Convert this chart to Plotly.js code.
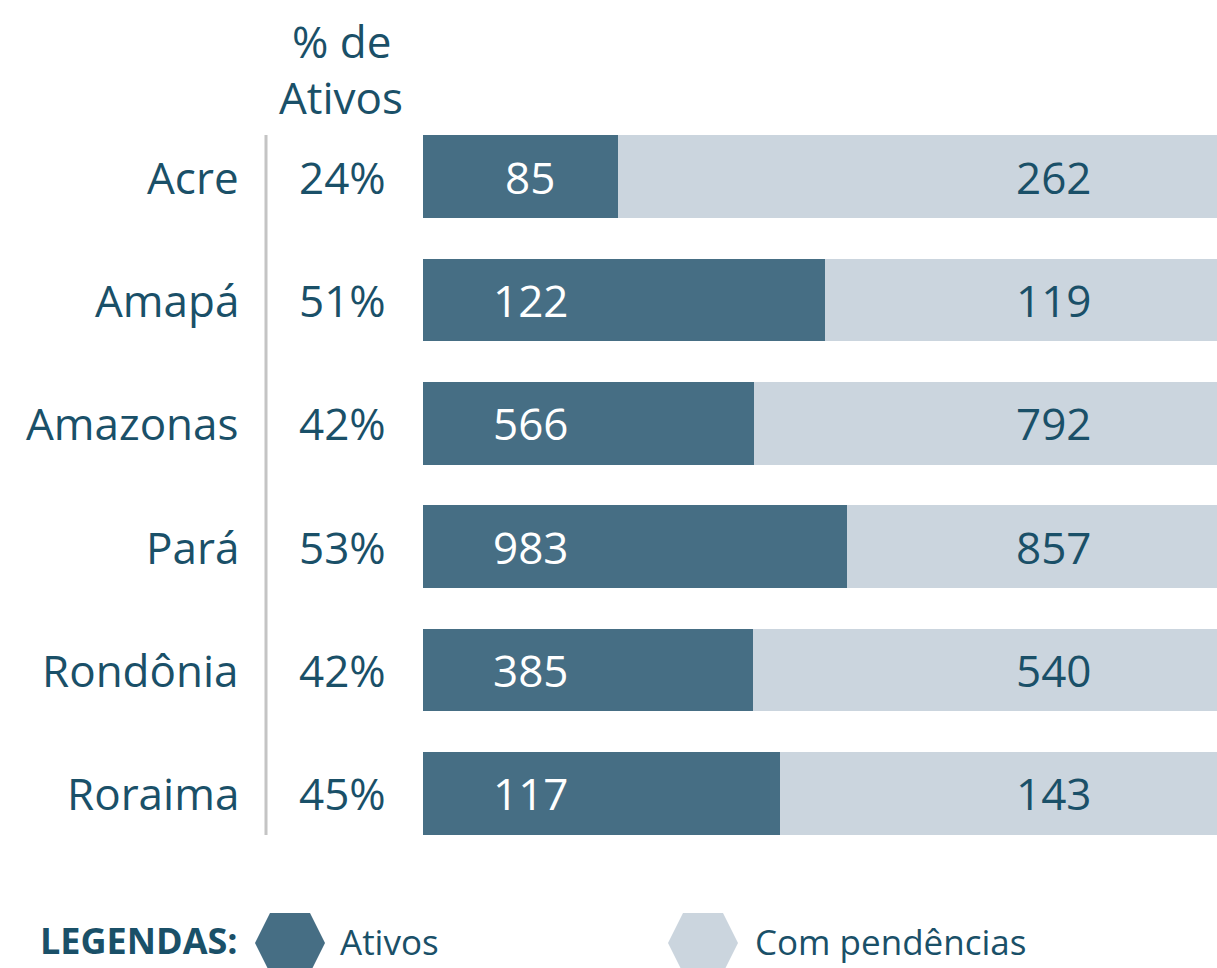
<!DOCTYPE html>
<html>
<head>
<meta charset="utf-8">
<script src="https://cdn.plot.ly/plotly-3.0.1.min.js"></script>
<style>
html,body{margin:0;padding:0;background:#fff;}
#chart{width:1217px;height:968px;}
</style>
</head>
<body>
<div id="chart"></div>
<script>
// ---- data ----
const states = ["Acre", "Amapá", "Amazonas", "Pará", "Rondônia", "Roraima"];
const ativos = [85, 122, 566, 983, 385, 117];
const pendencias = [262, 119, 792, 857, 540, 143];
const pctLabels = ["24%", "51%", "42%", "53%", "42%", "45%"];
const headerLines = ["% de", "Ativos"];
const legendTitle = "LEGENDAS:";
const seriesNames = ["Ativos", "Com pendências"];

// ---- style ----
const W = 1217, H = 968;
const M = {l: 423, r: 0, t: 115, b: 113};
const PW = W - M.l - M.r, PH = H - M.t - M.b;
const DARK = "#466e84", LIGHT = "#cbd5de", TXT = "#1a5068";
const FONT = "Open Sans, Noto Sans, sans-serif";
const FS = 44;
const px2x = p => (p - M.l) / PW;
const px2y = p => (H - M.b - p) / PH;

const traces = [
  {type: "bar", orientation: "h", name: seriesNames[0], y: states, x: ativos,
   marker: {color: DARK}, hoverinfo: "x+y"},
  {type: "bar", orientation: "h", name: seriesNames[1], y: states, x: pendencias,
   marker: {color: LIGHT}, hoverinfo: "x+y"}
];

const ann = [];
states.forEach((s, i) => {
  ann.push({xref: "paper", yref: "y", x: px2x(241), y: s, text: s, xanchor: "right",
            showarrow: false, font: {family: FONT, size: FS, color: TXT}});
  ann.push({xref: "paper", yref: "y", x: px2x(342), y: s, text: pctLabels[i], xanchor: "center",
            showarrow: false, font: {family: FONT, size: FS, color: TXT}});
  ann.push({xref: "paper", yref: "y", x: px2x(530), y: s, text: String(ativos[i]), xanchor: "center",
            showarrow: false, font: {family: FONT, size: FS, color: "#ffffff"}});
  ann.push({xref: "paper", yref: "y", x: px2x(1053), y: s, text: String(pendencias[i]), xanchor: "center",
            showarrow: false, font: {family: FONT, size: FS, color: TXT}});
});
ann.push({xref: "paper", yref: "paper", x: px2x(341), y: px2y(41), yanchor: "middle", xanchor: "center",
          text: headerLines[0], showarrow: false, font: {family: FONT, size: FS, color: TXT}});
ann.push({xref: "paper", yref: "paper", x: px2x(341), y: px2y(97), yanchor: "middle", xanchor: "center",
          text: headerLines[1], showarrow: false, font: {family: FONT, size: FS, color: TXT}});
ann.push({xref: "paper", yref: "paper", x: px2x(38), y: px2y(940), xanchor: "left", yanchor: "middle",
          text: "<b>" + legendTitle + "</b>", showarrow: false,
          font: {family: FONT, size: 36, color: TXT}});
ann.push({xref: "paper", yref: "paper", x: px2x(338), y: px2y(941), xanchor: "left", yanchor: "middle",
          text: seriesNames[0], showarrow: false, font: {family: FONT, size: 35, color: TXT}});
ann.push({xref: "paper", yref: "paper", x: px2x(753), y: px2y(941), xanchor: "left", yanchor: "middle",
          text: seriesNames[1], showarrow: false, font: {family: FONT, size: 35, color: TXT}});

function hexPath(cx, cy, w, h) {
  const s = 15;
  const pts = [[cx - w/2, cy], [cx - w/2 + s, cy - h/2], [cx + w/2 - s, cy - h/2],
               [cx + w/2, cy], [cx + w/2 - s, cy + h/2], [cx - w/2 + s, cy + h/2]];
  return "M" + pts.map(p => px2x(p[0]) + "," + px2y(p[1])).join("L") + "Z";
}

const shapes = [
  {type: "line", xref: "paper", yref: "paper", x0: px2x(266), x1: px2x(266),
   y0: px2y(135), y1: px2y(835), line: {color: "#c4c4c4", width: 3}},
  {type: "path", xref: "paper", yref: "paper", path: hexPath(290, 943, 70, 60),
   fillcolor: DARK, line: {width: 0}},
  {type: "path", xref: "paper", yref: "paper", path: hexPath(703, 943, 70, 60),
   fillcolor: LIGHT, line: {width: 0}}
];

const layout = {
  width: W, height: H, margin: M,
  paper_bgcolor: "#fff", plot_bgcolor: "#fff",
  barmode: "stack", barnorm: "fraction", bargap: 0.33,
  showlegend: false,
  xaxis: {range: [0, 1], visible: false, fixedrange: true},
  yaxis: {autorange: "reversed", showticklabels: false, showgrid: false, zeroline: false,
          showline: false, ticks: "", fixedrange: true},
  annotations: ann, shapes: shapes,
  font: {family: FONT, color: TXT}
};

Plotly.newPlot("chart", traces, layout, {displayModeBar: false, staticPlot: true});
</script>
</body>
</html>
